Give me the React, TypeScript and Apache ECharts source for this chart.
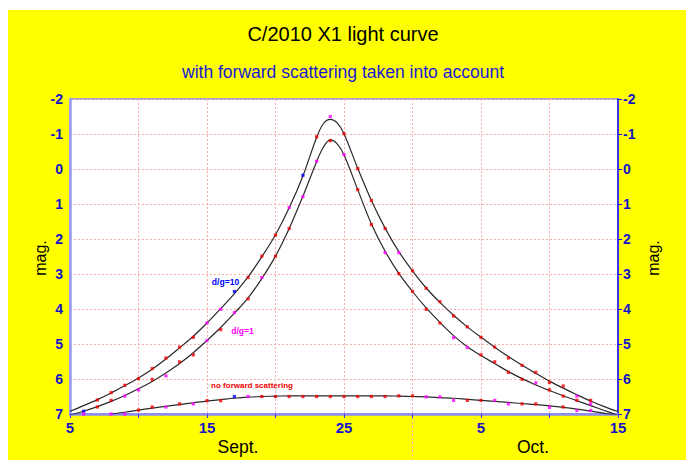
import React, { useEffect, useRef } from "react";
import * as echarts from "echarts";

// x = days since 5 Sept (0 .. 40 -> 15 Oct)
const xTickDays = [0, 10, 20, 30, 40];
const xTickLabels = ["5", "15", "25", "5", "15"];

const curveDays = [0, 1, 2, 3, 4, 5, 6, 7, 8, 9, 10, 11, 12, 13, 14, 15, 16, 17, 18, 18.5, 19, 19.5, 20, 21, 22, 23, 24, 25, 26, 27, 28, 29, 30, 31, 32, 33, 34, 35, 36, 37, 38, 39, 40];
const curveDg10 = [6.92, 6.76, 6.59, 6.4, 6.19, 5.97, 5.72, 5.43, 5.11, 4.78, 4.4, 3.99, 3.56, 3.08, 2.51, 1.88, 1.11, 0.2, -0.9, -1.3, -1.42, -1.32, -1.01, -0.02, 0.9, 1.69, 2.36, 2.91, 3.4, 3.81, 4.18, 4.51, 4.81, 5.09, 5.36, 5.61, 5.84, 6.06, 6.26, 6.45, 6.63, 6.79, 6.93];
const curveDg1 = [7.03, 6.92, 6.79, 6.64, 6.47, 6.28, 6.07, 5.83, 5.56, 5.25, 4.9, 4.53, 4.12, 3.68, 3.13, 2.49, 1.7, 0.78, -0.21, -0.63, -0.83, -0.72, -0.41, 0.59, 1.57, 2.35, 2.98, 3.5, 3.97, 4.38, 4.76, 5.08, 5.33, 5.56, 5.79, 5.99, 6.17, 6.33, 6.48, 6.62, 6.76, 6.9, 7.04];
const curveNoFsDays = [3, 4, 5, 6, 7, 8, 9, 10, 11, 12, 13, 14, 15, 16, 17, 18, 19, 20, 21, 22, 23, 24, 25, 26, 27, 28, 29, 30, 31, 32, 33, 34, 35, 36, 37, 38, 39, 40];
const curveNoFs = [7.0, 6.95, 6.89, 6.83, 6.78, 6.73, 6.68, 6.63, 6.59, 6.55, 6.52, 6.5, 6.49, 6.48, 6.48, 6.48, 6.48, 6.48, 6.48, 6.48, 6.48, 6.49, 6.5, 6.51, 6.53, 6.55, 6.58, 6.61, 6.64, 6.67, 6.7, 6.73, 6.77, 6.81, 6.86, 6.92, 6.98, 7.05];

// observations: [day, mag, colour key]
const obsDg10: [number, number, string][] = [
  [2, 6.6, "r"], [3, 6.39, "r"], [4, 6.18, "r"], [5, 5.99, "r"], [6, 5.7, "r"], [7, 5.4, "r"], [8, 5.09, "r"], [9, 4.81, "r"],
  [10, 4.4, "m"], [11, 4.01, "m"], [12, 3.5, "b"], [13, 3.1, "r"], [14, 2.49, "r"], [15, 1.89, "r"], [16, 1.1, "m"], [17, 0.18, "b"],
  [18, -0.92, "r"], [19, -1.5, "m"], [20, -1.01, "r"], [21, -0.01, "r"], [22, 0.9, "r"], [23, 1.7, "r"], [24, 2.39, "m"], [25, 2.91, "r"],
  [26, 3.41, "r"], [27, 3.79, "r"], [28, 4.2, "r"], [29, 4.51, "r"], [30, 4.81, "r"], [31, 5.09, "r"], [32, 5.4, "r"], [33, 5.61, "r"],
  [34, 5.81, "r"], [35, 6.1, "r"], [36, 6.2, "r"], [37, 6.49, "m"], [38, 6.61, "r"],
];
const obsDg1: [number, number, string][] = [
  [1, 6.92, "b"], [2, 6.8, "r"], [3, 6.61, "r"], [4, 6.49, "m"], [5, 6.31, "m"], [6, 6.01, "r"], [7, 5.91, "m"], [8, 5.51, "r"],
  [9, 5.31, "r"], [10, 4.9, "m"], [11, 4.59, "r"], [12, 4.1, "m"], [13, 3.71, "r"], [14, 3.1, "m"], [15, 2.49, "r"], [16, 1.7, "r"],
  [17, 0.79, "m"], [18, -0.22, "m"], [19, -0.81, "r"], [20, -0.41, "m"], [21, 0.59, "r"], [22, 1.59, "r"], [23, 2.39, "m"], [24, 2.99, "r"],
  [25, 3.5, "r"], [26, 4.01, "r"], [27, 4.4, "r"], [28, 4.82, "m"], [29, 5.1, "m"], [30, 5.31, "r"], [31, 5.51, "r"], [32, 5.81, "r"],
  [33, 6.01, "r"], [34, 6.11, "m"], [35, 6.31, "r"], [36, 6.49, "r"], [37, 6.61, "r"], [38, 6.71, "m"],
];
const obsNoFs: [number, number, string][] = [
  [1, 7.0, "m"], [3, 7.0, "m"], [4, 7.0, "m"], [5, 6.89, "r"], [6, 6.8, "r"], [7, 6.8, "m"], [8, 6.71, "r"], [9, 6.71, "m"],
  [10, 6.62, "r"], [11, 6.62, "r"], [12, 6.5, "b"], [13, 6.5, "m"], [14, 6.5, "r"], [15, 6.5, "r"], [16, 6.5, "r"], [17, 6.5, "r"],
  [18, 6.5, "r"], [19, 6.5, "r"], [20, 6.5, "r"], [21, 6.5, "r"], [22, 6.5, "r"], [23, 6.5, "r"], [24, 6.48, "r"], [25, 6.48, "r"],
  [26, 6.51, "m"], [27, 6.51, "m"], [28, 6.61, "m"], [29, 6.61, "r"], [30, 6.61, "r"], [31, 6.61, "m"], [32, 6.71, "m"], [33, 6.71, "r"],
  [34, 6.71, "r"], [35, 6.81, "m"], [36, 6.8, "r"], [37, 6.9, "m"], [38, 6.9, "m"],
];

const COLORS: Record<string, string> = { r: "#ee0000", m: "#ff00ff", b: "#0000ff" };
const FONT = "'Liberation Sans', Arial, sans-serif";
const LABEL_BLUE = "#1414c8";

function curve(name: string, days: number[], mags: number[]) {
  return {
    name,
    type: "line",
    data: days.map((d, i) => [d, mags[i]]),
    smooth: 0.35,
    symbol: "none",
    clip: true,
    lineStyle: { color: "#2a2a2a", width: 1.2 },
    z: 3,
  };
}

function obs(name: string, pts: [number, number, string][]) {
  return {
    name,
    type: "scatter",
    symbol: "rect",
    symbolSize: 3.2,
    clip: false,
    z: 4,
    data: pts.map(([d, m, c]) => ({ value: [d, m], itemStyle: { color: COLORS[c] } })),
  };
}

export default function App() {
  const ref = useRef<HTMLDivElement>(null);
  useEffect(() => {
    if (!ref.current) return;
    const chart = echarts.init(ref.current, null, { renderer: "svg" });
    const gridLeft = 62, gridRight = 68, gridTop = 89, gridBottom = 46;
    const W = 678, H = 450;
    const plotW = W - gridLeft - gridRight;
    const sepX = gridLeft + (25 / 40) * plotW;
    const splitLine = { show: true, lineStyle: { color: "#ffacac", type: [2, 2], width: 1 } };
    const yLabel = { color: LABEL_BLUE, fontSize: 14, fontWeight: "bold", fontFamily: FONT };
    chart.setOption({
      animation: false,
      backgroundColor: "#ffff00",
      grid: {
        left: gridLeft, right: gridRight, top: gridTop, bottom: gridBottom,
        show: true, backgroundColor: "#ffffff", borderColor: "#a4a4dc", borderWidth: 2,
      },
      xAxis: {
        type: "value", min: 0, max: 40, interval: 5, position: "bottom",
        axisLine: { show: true, onZero: false, lineStyle: { color: "#8c8cf4", width: 2.5 } },
        axisTick: { show: true, length: 4, lineStyle: { color: "#3a3aff" } },
        axisLabel: {
          ...yLabel, fontSize: 15, margin: 6, showMinLabel: true, showMaxLabel: true,
          formatter: (v: number) => {
            const i = xTickDays.indexOf(v);
            return i >= 0 ? xTickLabels[i] : "";
          },
        },
        splitLine,
      },
      yAxis: [
        {
          type: "value", inverse: true, min: -2, max: 7, interval: 1, position: "left",
          axisLine: { show: true, onZero: false, lineStyle: { color: "#9a9af0", width: 2.5 } },
          axisTick: { show: false },
          axisLabel: { ...yLabel, margin: 7 },
          splitLine,
        },
        {
          type: "value", inverse: true, min: -2, max: 7, interval: 1, position: "right",
          axisLine: { show: true, onZero: false, lineStyle: { color: "#1010ff", width: 1.5 } },
          axisTick: { show: true, length: 4, lineStyle: { color: "#1010ff" } },
          axisLabel: { ...yLabel, margin: 5 },
          splitLine: { show: false },
        },
      ],
      series: [
        curve("d/g=10", curveDays, curveDg10),
        curve("d/g=1", curveDays, curveDg1),
        curve("no forward scattering", curveNoFsDays, curveNoFs),
        obs("obs d/g=10", obsDg10),
        obs("obs d/g=1", obsDg1),
        obs("obs no fs", obsNoFs),
      ],
      graphic: [
        { type: "text", x: 335, y: 24, style: { text: "C/2010 X1 light curve", fontSize: 20, fontFamily: FONT, fill: "#000", align: "center", verticalAlign: "middle" } },
        { type: "text", x: 335, y: 62, style: { text: "with forward scattering taken into account", fontSize: 17.5, fontFamily: FONT, fill: "#1a1ad6", align: "center", verticalAlign: "middle" } },
        { type: "text", x: 32, y: 248, rotation: Math.PI / 2, style: { text: "mag.", fontSize: 16, fontFamily: FONT, fill: "#000", align: "center", verticalAlign: "middle" } },
        { type: "text", x: 645, y: 248, rotation: Math.PI / 2, style: { text: "mag.", fontSize: 16, fontFamily: FONT, fill: "#000", align: "center", verticalAlign: "middle" } },
        { type: "text", x: 230, y: 437, style: { text: "Sept.", fontSize: 17.5, fontFamily: FONT, fill: "#000", align: "center", verticalAlign: "middle" } },
        { type: "text", x: 525, y: 437, style: { text: "Oct.", fontSize: 17.5, fontFamily: FONT, fill: "#000", align: "center", verticalAlign: "middle" } },
        { type: "text", x: 217.5, y: 272, z: 10, style: { text: "d/g=10", fontSize: 8.6, fontWeight: "bold", fontFamily: FONT, fill: "#0000ff", align: "center", verticalAlign: "middle" } },
        { type: "text", x: 234.5, y: 320.5, z: 10, style: { text: "d/g=1", fontSize: 8.6, fontWeight: "bold", fontFamily: FONT, fill: "#ff00ff", align: "center", verticalAlign: "middle" } },
        { type: "text", x: 244, y: 375, z: 10, style: { text: "no forward scattering", fontSize: 8, fontWeight: "bold", fontFamily: FONT, fill: "#ee0000", align: "center", verticalAlign: "middle" } },
        { type: "line", shape: { x1: sepX, y1: H - gridBottom, x2: sepX, y2: H }, style: { stroke: "#ffacac", lineDash: [2, 2], lineWidth: 1 } },
      ],
    });
    return () => chart.dispose();
  }, []);
  return (
    <div
      ref={ref}
      style={{ position: "absolute", left: 8, top: 10, width: 678, height: 450 }}
    />
  );
}
